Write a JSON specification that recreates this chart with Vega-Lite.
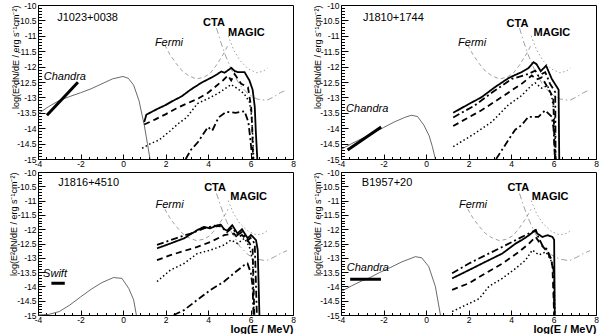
{
"$schema":"https://vega.github.io/schema/vega-lite/v6.json",
"autosize":{"type":"pad"},
"padding":{"left":8,"top":0,"right":0,"bottom":0},
"background":"white",
"columns":2,
"spacing":{"row":13,"column":48},
"bounds":"flush",
"config":{
 "font":"Liberation Sans",
 "view":{"stroke":"#000","strokeWidth":1},
 "axis":{"domainColor":"#000","tickColor":"#000","labelColor":"#000","labelFont":"Liberation Sans","labelFontSize":8.5,"titleColor":"#000","titleFont":"Liberation Sans","grid":false,"labelFlush":false,"labelOverlap":false},
 "text":{"font":"Liberation Sans","fontSize":11,"color":"#000","align":"left","baseline":"middle"},
 "line":{"clip":true}
},
"datasets":{
 "sens":[
  {"s":"fermi","x":1.97,"y":-11.3},{"s":"fermi","x":2.2,"y":-11.6},{"s":"fermi","x":2.5,"y":-11.9},{"s":"fermi","x":2.8,"y":-12.15},{"s":"fermi","x":3.1,"y":-12.3},{"s":"fermi","x":3.45,"y":-12.4},{"s":"fermi","x":3.8,"y":-12.35},{"s":"fermi","x":4.1,"y":-12.22},{"s":"fermi","x":4.4,"y":-11.95},{"s":"fermi","x":4.7,"y":-11.62},{"s":"fermi","x":4.95,"y":-11.3},
  {"s":"cta","x":4.4,"y":-10.75},{"s":"cta","x":4.6,"y":-11.2},{"s":"cta","x":4.8,"y":-11.6},{"s":"cta","x":5.1,"y":-12.1},{"s":"cta","x":5.5,"y":-12.6},{"s":"cta","x":5.9,"y":-12.9},{"s":"cta","x":6.3,"y":-13.05},{"s":"cta","x":6.75,"y":-13.1},{"s":"cta","x":7.1,"y":-12.98},{"s":"cta","x":7.4,"y":-12.85},{"s":"cta","x":7.72,"y":-12.75},
  {"s":"magic","x":4.95,"y":-11.0},{"s":"magic","x":5.2,"y":-11.45},{"s":"magic","x":5.5,"y":-11.8},{"s":"magic","x":5.9,"y":-12.08},{"s":"magic","x":6.3,"y":-12.2},{"s":"magic","x":6.6,"y":-12.15},{"s":"magic","x":6.8,"y":-12.05}
 ],
 "m1":[
  {"s":"sync","x":-4,"y":-13.53},{"s":"sync","x":-3.5,"y":-13.3},{"s":"sync","x":-3.0,"y":-13.1},{"s":"sync","x":-2.5,"y":-12.97},{"s":"sync","x":-2.0,"y":-12.85},{"s":"sync","x":-1.5,"y":-12.72},{"s":"sync","x":-1.0,"y":-12.56},{"s":"sync","x":-0.5,"y":-12.4},{"s":"sync","x":0,"y":-12.32},{"s":"sync","x":0.25,"y":-12.38},{"s":"sync","x":0.5,"y":-12.6},{"s":"sync","x":0.75,"y":-13.1},{"s":"sync","x":1.0,"y":-13.9},{"s":"sync","x":1.15,"y":-14.5},{"s":"sync","x":1.27,"y":-15},
  {"s":"xray","x":-3.58,"y":-13.58},{"s":"xray","x":-2.12,"y":-12.51},
  {"s":"solid","x":1.0,"y":-13.8},{"s":"solid","x":1.1,"y":-13.56},{"s":"solid","x":1.6,"y":-13.38},{"s":"solid","x":2.0,"y":-13.25},{"s":"solid","x":2.3,"y":-13.13},{"s":"solid","x":2.75,"y":-12.97},{"s":"solid","x":3.2,"y":-12.74},{"s":"solid","x":3.7,"y":-12.52},{"s":"solid","x":4.15,"y":-12.36},{"s":"solid","x":4.45,"y":-12.24},{"s":"solid","x":4.63,"y":-12.16},{"s":"solid","x":4.78,"y":-12.2},{"s":"solid","x":4.94,"y":-12.12},{"s":"solid","x":5.1,"y":-12.04},{"s":"solid","x":5.25,"y":-12.14},{"s":"solid","x":5.4,"y":-12.18},{"s":"solid","x":5.72,"y":-12.18},{"s":"solid","x":5.95,"y":-12.45},{"s":"solid","x":6.1,"y":-12.75},{"s":"solid","x":6.2,"y":-13.3},{"s":"solid","x":6.25,"y":-14.1},{"s":"solid","x":6.32,"y":-15},
  {"s":"dashed","x":1.0,"y":-13.88},{"s":"dashed","x":1.5,"y":-13.72},{"s":"dashed","x":2.0,"y":-13.55},{"s":"dashed","x":2.5,"y":-13.36},{"s":"dashed","x":3.0,"y":-13.2},{"s":"dashed","x":3.5,"y":-13.05},{"s":"dashed","x":4.0,"y":-12.85},{"s":"dashed","x":4.4,"y":-12.62},{"s":"dashed","x":4.7,"y":-12.45},{"s":"dashed","x":4.94,"y":-12.29},{"s":"dashed","x":5.09,"y":-12.45},{"s":"dashed","x":5.25,"y":-12.24},{"s":"dashed","x":5.56,"y":-12.56},{"s":"dashed","x":5.88,"y":-12.67},{"s":"dashed","x":6.03,"y":-13.3},{"s":"dashed","x":6.08,"y":-14},{"s":"dashed","x":6.12,"y":-15},
  {"s":"dotted","x":0.9,"y":-14.65},{"s":"dotted","x":1.3,"y":-14.5},{"s":"dotted","x":1.7,"y":-14.38},{"s":"dotted","x":2.2,"y":-14.1},{"s":"dotted","x":2.6,"y":-13.85},{"s":"dotted","x":3.0,"y":-13.65},{"s":"dotted","x":3.5,"y":-13.2},{"s":"dotted","x":4.0,"y":-13.04},{"s":"dotted","x":4.5,"y":-12.86},{"s":"dotted","x":5.09,"y":-12.58},{"s":"dotted","x":5.4,"y":-12.72},{"s":"dotted","x":5.7,"y":-12.88},{"s":"dotted","x":5.95,"y":-13.15},{"s":"dotted","x":6.05,"y":-13.6},{"s":"dotted","x":6.1,"y":-14.2},{"s":"dotted","x":6.15,"y":-15},
  {"s":"dashdot","x":2.95,"y":-15},{"s":"dashdot","x":3.2,"y":-14.7},{"s":"dashdot","x":3.53,"y":-14.45},{"s":"dashdot","x":4.0,"y":-13.96},{"s":"dashdot","x":4.2,"y":-14.08},{"s":"dashdot","x":4.5,"y":-13.65},{"s":"dashdot","x":4.85,"y":-13.47},{"s":"dashdot","x":5.3,"y":-13.5},{"s":"dashdot","x":5.72,"y":-13.45},{"s":"dashdot","x":5.9,"y":-13.8},{"s":"dashdot","x":6.0,"y":-14.4},{"s":"dashdot","x":6.08,"y":-15}
 ],
 "m2":[
  {"s":"sync","x":-4,"y":-14.69},{"s":"sync","x":-3.5,"y":-14.5},{"s":"sync","x":-3.0,"y":-14.33},{"s":"sync","x":-2.5,"y":-14.16},{"s":"sync","x":-2.0,"y":-13.98},{"s":"sync","x":-1.5,"y":-13.8},{"s":"sync","x":-1.0,"y":-13.65},{"s":"sync","x":-0.69,"y":-13.58},{"s":"sync","x":-0.4,"y":-13.62},{"s":"sync","x":-0.1,"y":-13.9},{"s":"sync","x":0.15,"y":-14.25},{"s":"sync","x":0.3,"y":-14.6},{"s":"sync","x":0.44,"y":-15},
  {"s":"xray","x":-3.69,"y":-14.71},{"s":"xray","x":-2.11,"y":-13.96},
  {"s":"solid","x":1.28,"y":-13.5},{"s":"solid","x":2.0,"y":-13.22},{"s":"solid","x":2.6,"y":-13.0},{"s":"solid","x":3.24,"y":-12.67},{"s":"solid","x":3.87,"y":-12.38},{"s":"solid","x":4.2,"y":-12.27},{"s":"solid","x":4.5,"y":-12.18},{"s":"solid","x":4.82,"y":-12.05},{"s":"solid","x":5.06,"y":-11.86},{"s":"solid","x":5.2,"y":-11.92},{"s":"solid","x":5.4,"y":-12.15},{"s":"solid","x":5.65,"y":-11.97},{"s":"solid","x":5.92,"y":-12.4},{"s":"solid","x":6.24,"y":-12.75},{"s":"solid","x":6.27,"y":-15},
  {"s":"dashdot_hi","x":1.28,"y":-13.65},{"s":"dashdot_hi","x":2.3,"y":-13.26},{"s":"dashdot_hi","x":3.09,"y":-12.85},{"s":"dashdot_hi","x":4.03,"y":-12.4},{"s":"dashdot_hi","x":4.82,"y":-12.24},{"s":"dashdot_hi","x":5.14,"y":-12.13},{"s":"dashdot_hi","x":5.29,"y":-12.3},{"s":"dashdot_hi","x":5.61,"y":-12.18},{"s":"dashdot_hi","x":5.84,"y":-12.56},{"s":"dashdot_hi","x":6.08,"y":-12.83},{"s":"dashdot_hi","x":6.1,"y":-15},
  {"s":"dashed","x":1.28,"y":-13.93},{"s":"dashed","x":2.0,"y":-13.65},{"s":"dashed","x":2.61,"y":-13.42},{"s":"dashed","x":3.56,"y":-12.99},{"s":"dashed","x":4.5,"y":-12.56},{"s":"dashed","x":4.98,"y":-12.29},{"s":"dashed","x":5.2,"y":-12.42},{"s":"dashed","x":5.45,"y":-12.35},{"s":"dashed","x":5.76,"y":-12.72},{"s":"dashed","x":5.99,"y":-13.0},{"s":"dashed","x":6.06,"y":-15},
  {"s":"dotted","x":1.28,"y":-14.6},{"s":"dotted","x":2.3,"y":-14.17},{"s":"dotted","x":3.09,"y":-13.8},{"s":"dotted","x":3.87,"y":-13.25},{"s":"dotted","x":4.5,"y":-12.94},{"s":"dotted","x":4.95,"y":-12.62},{"s":"dotted","x":5.14,"y":-12.53},{"s":"dotted","x":5.45,"y":-12.7},{"s":"dotted","x":5.72,"y":-12.62},{"s":"dotted","x":5.92,"y":-12.98},{"s":"dotted","x":6.05,"y":-13.6},{"s":"dotted","x":6.1,"y":-15},
  {"s":"dashdot","x":3.3,"y":-15},{"s":"dashdot","x":3.87,"y":-14.39},{"s":"dashdot","x":4.2,"y":-14.05},{"s":"dashdot","x":4.5,"y":-13.9},{"s":"dashdot","x":4.82,"y":-13.63},{"s":"dashdot","x":5.29,"y":-13.63},{"s":"dashdot","x":5.61,"y":-13.42},{"s":"dashdot","x":5.92,"y":-13.63},{"s":"dashdot","x":6.0,"y":-14.0},{"s":"dashdot","x":6.08,"y":-15}
 ],
 "m3":[
  {"s":"sync","x":-4,"y":-15},{"s":"sync","x":-3.5,"y":-14.98},{"s":"sync","x":-3.0,"y":-14.88},{"s":"sync","x":-2.5,"y":-14.65},{"s":"sync","x":-2.0,"y":-14.37},{"s":"sync","x":-1.5,"y":-14.1},{"s":"sync","x":-1.0,"y":-13.87},{"s":"sync","x":-0.45,"y":-13.69},{"s":"sync","x":-0.05,"y":-13.72},{"s":"sync","x":0.27,"y":-14.07},{"s":"sync","x":0.5,"y":-14.47},{"s":"sync","x":0.63,"y":-15},
  {"s":"xray","x":-3.37,"y":-13.89},{"s":"xray","x":-2.74,"y":-13.89},
  {"s":"solid","x":1.6,"y":-12.67},{"s":"solid","x":2.23,"y":-12.5},{"s":"solid","x":2.87,"y":-12.32},{"s":"solid","x":3.5,"y":-12.03},{"s":"solid","x":3.8,"y":-11.92},{"s":"solid","x":4.1,"y":-11.97},{"s":"solid","x":4.45,"y":-11.86},{"s":"solid","x":4.6,"y":-11.84},{"s":"solid","x":4.76,"y":-12.0},{"s":"solid","x":4.9,"y":-12.05},{"s":"solid","x":5.14,"y":-11.86},{"s":"solid","x":5.39,"y":-12.15},{"s":"solid","x":5.6,"y":-12.0},{"s":"solid","x":5.87,"y":-12.32},{"s":"solid","x":6.02,"y":-12.2},{"s":"solid","x":6.26,"y":-12.38},{"s":"solid","x":6.34,"y":-12.73},{"s":"solid","x":6.42,"y":-15},
  {"s":"dashdot_hi","x":1.6,"y":-12.55},{"s":"dashdot_hi","x":2.55,"y":-12.3},{"s":"dashdot_hi","x":3.18,"y":-12.15},{"s":"dashdot_hi","x":3.81,"y":-11.97},{"s":"dashdot_hi","x":4.29,"y":-11.88},{"s":"dashdot_hi","x":4.6,"y":-11.9},{"s":"dashdot_hi","x":4.9,"y":-12.1},{"s":"dashdot_hi","x":5.14,"y":-11.95},{"s":"dashdot_hi","x":5.39,"y":-12.2},{"s":"dashdot_hi","x":5.6,"y":-12.1},{"s":"dashdot_hi","x":5.87,"y":-12.4},{"s":"dashdot_hi","x":6.0,"y":-12.3},{"s":"dashdot_hi","x":6.2,"y":-12.5},{"s":"dashdot_hi","x":6.3,"y":-15},
  {"s":"dashed","x":1.6,"y":-13.08},{"s":"dashed","x":2.23,"y":-12.91},{"s":"dashed","x":2.87,"y":-12.76},{"s":"dashed","x":3.5,"y":-12.62},{"s":"dashed","x":4.13,"y":-12.44},{"s":"dashed","x":4.76,"y":-12.21},{"s":"dashed","x":5.22,"y":-12.15},{"s":"dashed","x":5.39,"y":-12.3},{"s":"dashed","x":5.6,"y":-12.2},{"s":"dashed","x":5.94,"y":-12.47},{"s":"dashed","x":6.1,"y":-12.7},{"s":"dashed","x":6.18,"y":-15},
  {"s":"dotted","x":1.6,"y":-13.83},{"s":"dotted","x":2.23,"y":-13.43},{"s":"dotted","x":2.87,"y":-13.2},{"s":"dotted","x":3.5,"y":-12.85},{"s":"dotted","x":4.13,"y":-12.73},{"s":"dotted","x":4.76,"y":-12.55},{"s":"dotted","x":5.08,"y":-12.38},{"s":"dotted","x":5.39,"y":-12.5},{"s":"dotted","x":5.71,"y":-12.32},{"s":"dotted","x":5.94,"y":-12.6},{"s":"dotted","x":6.1,"y":-13.07},{"s":"dotted","x":6.16,"y":-15},
  {"s":"dashdot","x":2.39,"y":-15},{"s":"dashdot","x":2.87,"y":-14.83},{"s":"dashdot","x":3.5,"y":-14.47},{"s":"dashdot","x":4.13,"y":-14.12},{"s":"dashdot","x":4.76,"y":-13.83},{"s":"dashdot","x":5.22,"y":-13.54},{"s":"dashdot","x":5.71,"y":-13.25},{"s":"dashdot","x":5.86,"y":-13.2},{"s":"dashdot","x":6.02,"y":-13.54},{"s":"dashdot","x":6.1,"y":-14.0},{"s":"dashdot","x":6.14,"y":-15}
 ],
 "m4":[
  {"s":"sync","x":-4,"y":-14.18},{"s":"sync","x":-3.5,"y":-13.98},{"s":"sync","x":-3.0,"y":-13.8},{"s":"sync","x":-2.71,"y":-13.72},{"s":"sync","x":-2.2,"y":-13.52},{"s":"sync","x":-1.76,"y":-13.37},{"s":"sync","x":-1.13,"y":-13.14},{"s":"sync","x":-0.5,"y":-12.96},{"s":"sync","x":-0.2,"y":-13.0},{"s":"sync","x":0.13,"y":-13.31},{"s":"sync","x":0.44,"y":-14.0},{"s":"sync","x":0.68,"y":-15},
  {"s":"xray","x":-3.57,"y":-13.75},{"s":"xray","x":-2.12,"y":-13.75},
  {"s":"solid","x":1.23,"y":-13.72},{"s":"solid","x":2.02,"y":-13.43},{"s":"solid","x":2.8,"y":-13.14},{"s":"solid","x":3.59,"y":-12.85},{"s":"solid","x":4.22,"y":-12.5},{"s":"solid","x":4.53,"y":-12.37},{"s":"solid","x":4.85,"y":-12.21},{"s":"solid","x":5.16,"y":-12.03},{"s":"solid","x":5.23,"y":-12.15},{"s":"solid","x":5.48,"y":-12.27},{"s":"solid","x":5.72,"y":-12.21},{"s":"solid","x":5.95,"y":-12.27},{"s":"solid","x":6.03,"y":-12.37},{"s":"solid","x":6.06,"y":-15},
  {"s":"dashdot_hi","x":1.23,"y":-13.54},{"s":"dashdot_hi","x":2.02,"y":-13.2},{"s":"dashdot_hi","x":2.8,"y":-12.91},{"s":"dashdot_hi","x":3.59,"y":-12.62},{"s":"dashdot_hi","x":4.38,"y":-12.32},{"s":"dashdot_hi","x":5.0,"y":-12.09},{"s":"dashdot_hi","x":5.16,"y":-12.03},{"s":"dashdot_hi","x":5.3,"y":-12.3},{"s":"dashdot_hi","x":5.5,"y":-12.6},{"s":"dashdot_hi","x":5.7,"y":-12.7},{"s":"dashdot_hi","x":5.9,"y":-13.1},{"s":"dashdot_hi","x":6.0,"y":-13.4},{"s":"dashdot_hi","x":6.04,"y":-15},
  {"s":"dashed","x":1.23,"y":-14.12},{"s":"dashed","x":2.02,"y":-13.89},{"s":"dashed","x":2.8,"y":-13.54},{"s":"dashed","x":3.59,"y":-13.2},{"s":"dashed","x":4.38,"y":-12.79},{"s":"dashed","x":4.85,"y":-12.5},{"s":"dashed","x":5.16,"y":-12.27},{"s":"dashed","x":5.32,"y":-12.45},{"s":"dashed","x":5.64,"y":-12.73},{"s":"dashed","x":5.87,"y":-13.0},{"s":"dashed","x":5.95,"y":-13.3},{"s":"dashed","x":6.03,"y":-15},
  {"s":"dotted","x":1.23,"y":-14.88},{"s":"dotted","x":2.02,"y":-14.6},{"s":"dotted","x":2.5,"y":-14.43},{"s":"dotted","x":2.96,"y":-14.0},{"s":"dotted","x":3.59,"y":-13.72},{"s":"dotted","x":4.22,"y":-13.37},{"s":"dotted","x":4.69,"y":-13.08},{"s":"dotted","x":5.0,"y":-12.73},{"s":"dotted","x":5.32,"y":-12.9},{"s":"dotted","x":5.64,"y":-12.79},{"s":"dotted","x":5.87,"y":-13.08},{"s":"dotted","x":6.03,"y":-13.54},{"s":"dotted","x":6.06,"y":-15}
 ]
},
"concat":[
 {"width":255,"height":154,
  "encoding":{
   "x":{"field":"x","type":"quantitative","scale":{"domain":[-4,8],"nice":false,"zero":false},
    "axis":{"values":[-4,-3.6,-3.2,-2.8,-2.4,-2,-1.6,-1.2,-0.8,-0.4,0,0.4,0.8,1.2,1.6,2,2.4,2.8,3.2,3.6,4,4.4,4.8,5.2,5.6,6,6.4,6.8,7.2,7.6,8],
     "labelExpr":"abs(datum.value/2-round(datum.value/2))<0.01 ? replace(format(datum.value,'d'),'−','-') : ''",
     "tickSize":{"condition":{"test":"abs(datum.value/2-round(datum.value/2))<0.01","value":-5},"value":-2.5},
     "labelPadding":5,"title":null}},
   "y":{"field":"y","type":"quantitative","scale":{"domain":[-15,-10],"nice":false,"zero":false},
    "axis":{"values":[-15,-14.9,-14.8,-14.7,-14.6,-14.5,-14.4,-14.3,-14.2,-14.1,-14,-13.9,-13.8,-13.7,-13.6,-13.5,-13.4,-13.3,-13.2,-13.1,-13,-12.9,-12.8,-12.7,-12.6,-12.5,-12.4,-12.3,-12.2,-12.1,-12,-11.9,-11.8,-11.7,-11.6,-11.5,-11.4,-11.3,-11.2,-11.1,-11,-10.9,-10.8,-10.7,-10.6,-10.5,-10.4,-10.3,-10.2,-10.1,-10],
     "labelExpr":"abs(datum.value*2-round(datum.value*2))<0.01 ? replace(format(datum.value,'.1~f'),'−','-') : ''",
     "tickSize":{"condition":{"test":"abs(datum.value*2-round(datum.value*2))<0.01","value":-7},"value":-3.5},
     "labelPadding":9,
     "title":"log(E²dN/dE / erg s⁻¹cm⁻²)","titleX":-23,"titleY":0,"titleAngle":270,"titleAlign":"right","titleBaseline":"middle","titleFontSize":9,"titleFontWeight":"normal"}}
  },
  "layer":[
   {"data":{"name":"sens"},"mark":{"type":"line","strokeWidth":0.8,"color":"#888"},
    "encoding":{"strokeDash":{"field":"s","type":"nominal","legend":null,"scale":{"domain":["solid","dashdot_hi","dashed","dashdot","fermi","cta","magic"],"range":[[1,0],[7,3,2,3],[6,4],[7,3,2,3],[4,3],[6,3,1.5,3],[1.5,2.5]]}}}},
   {"data":{"name":"m1"},"transform":[{"filter":{"field":"s","oneOf":["sync"]}}],"mark":{"type":"line","strokeWidth":0.8,"color":"#444"}},
   {"data":{"name":"m1"},"transform":[{"filter":{"field":"s","oneOf":["xray"]}}],"mark":{"type":"line","strokeWidth":3,"color":"#000"}},
   {"data":{"name":"m1"},"transform":[{"filter":{"field":"s","oneOf":["dotted"]}}],"mark":{"type":"line","strokeWidth":1.5,"color":"#000","strokeDash":[1.5,2.5]}},
   {"data":{"name":"m1"},"transform":[{"filter":{"field":"s","oneOf":["solid","dashdot_hi","dashed","dashdot"]}}],"mark":{"type":"line","strokeWidth":1.8,"color":"#000"},
    "encoding":{"strokeDash":{"field":"s","type":"nominal","legend":null,"scale":{"domain":["solid","dashdot_hi","dashed","dashdot","fermi","cta","magic"],"range":[[1,0],[7,3,2,3],[6,4],[7,3,2,3],[4,3],[6,3,1.5,3],[1.5,2.5]]}}}},
   {"data":{"values":[{"t":"J1023+0038","x":-3.1,"y":-10.42}]},"mark":{"type":"text"},"encoding":{"text":{"field":"t"}}},
   {"data":{"values":[{"t":"Chandra","x":-3.73,"y":-12.35},{"t":"Fermi","x":1.5,"y":-11.22}]},"mark":{"type":"text","fontStyle":"italic"},"encoding":{"text":{"field":"t"}}},
   {"data":{"values":[{"t":"CTA","x":3.77,"y":-10.6},{"t":"MAGIC","x":4.94,"y":-10.91}]},"mark":{"type":"text","fontWeight":"bold"},"encoding":{"text":{"field":"t"}}}
  ]},
 {"width":255,"height":154,
  "encoding":{
   "x":{"field":"x","type":"quantitative","scale":{"domain":[-4,8],"nice":false,"zero":false},
    "axis":{"values":[-4,-3.6,-3.2,-2.8,-2.4,-2,-1.6,-1.2,-0.8,-0.4,0,0.4,0.8,1.2,1.6,2,2.4,2.8,3.2,3.6,4,4.4,4.8,5.2,5.6,6,6.4,6.8,7.2,7.6,8],
     "labelExpr":"abs(datum.value/2-round(datum.value/2))<0.01 ? replace(format(datum.value,'d'),'−','-') : ''",
     "tickSize":{"condition":{"test":"abs(datum.value/2-round(datum.value/2))<0.01","value":-5},"value":-2.5},
     "labelPadding":5,"title":null}},
   "y":{"field":"y","type":"quantitative","scale":{"domain":[-15,-10],"nice":false,"zero":false},
    "axis":{"values":[-15,-14.9,-14.8,-14.7,-14.6,-14.5,-14.4,-14.3,-14.2,-14.1,-14,-13.9,-13.8,-13.7,-13.6,-13.5,-13.4,-13.3,-13.2,-13.1,-13,-12.9,-12.8,-12.7,-12.6,-12.5,-12.4,-12.3,-12.2,-12.1,-12,-11.9,-11.8,-11.7,-11.6,-11.5,-11.4,-11.3,-11.2,-11.1,-11,-10.9,-10.8,-10.7,-10.6,-10.5,-10.4,-10.3,-10.2,-10.1,-10],
     "labelExpr":"abs(datum.value*2-round(datum.value*2))<0.01 ? replace(format(datum.value,'.1~f'),'−','-') : ''",
     "tickSize":{"condition":{"test":"abs(datum.value*2-round(datum.value*2))<0.01","value":-7},"value":-3.5},
     "labelPadding":9,
     "title":"log(E²dN/dE / erg s⁻¹cm⁻²)","titleX":-24,"titleY":0,"titleAngle":270,"titleAlign":"right","titleBaseline":"middle","titleFontSize":9,"titleFontWeight":"normal"}}
  },
  "layer":[
   {"data":{"name":"sens"},"mark":{"type":"line","strokeWidth":0.8,"color":"#888"},
    "encoding":{"strokeDash":{"field":"s","type":"nominal","legend":null,"scale":{"domain":["solid","dashdot_hi","dashed","dashdot","fermi","cta","magic"],"range":[[1,0],[7,3,2,3],[6,4],[7,3,2,3],[4,3],[6,3,1.5,3],[1.5,2.5]]}}}},
   {"data":{"name":"m2"},"transform":[{"filter":{"field":"s","oneOf":["sync"]}}],"mark":{"type":"line","strokeWidth":0.8,"color":"#444"}},
   {"data":{"name":"m2"},"transform":[{"filter":{"field":"s","oneOf":["xray"]}}],"mark":{"type":"line","strokeWidth":3,"color":"#000"}},
   {"data":{"name":"m2"},"transform":[{"filter":{"field":"s","oneOf":["dotted"]}}],"mark":{"type":"line","strokeWidth":1.5,"color":"#000","strokeDash":[1.5,2.5]}},
   {"data":{"name":"m2"},"transform":[{"filter":{"field":"s","oneOf":["solid","dashdot_hi","dashed","dashdot"]}}],"mark":{"type":"line","strokeWidth":1.8,"color":"#000"},
    "encoding":{"strokeDash":{"field":"s","type":"nominal","legend":null,"scale":{"domain":["solid","dashdot_hi","dashed","dashdot","fermi","cta","magic"],"range":[[1,0],[7,3,2,3],[6,4],[7,3,2,3],[4,3],[6,3,1.5,3],[1.5,2.5]]}}}},
   {"data":{"values":[{"t":"J1810+1744","x":-2.97,"y":-10.41}]},"mark":{"type":"text"},"encoding":{"text":{"field":"t"}}},
   {"data":{"values":[{"t":"Chandra","x":-3.76,"y":-13.37},{"t":"Fermi","x":1.51,"y":-11.22}]},"mark":{"type":"text","fontStyle":"italic"},"encoding":{"text":{"field":"t"}}},
   {"data":{"values":[{"t":"CTA","x":3.79,"y":-10.62},{"t":"MAGIC","x":5.06,"y":-10.91}]},"mark":{"type":"text","fontWeight":"bold"},"encoding":{"text":{"field":"t"}}}
  ]},
 {"width":255,"height":143,
  "encoding":{
   "x":{"field":"x","type":"quantitative","scale":{"domain":[-4,8],"nice":false,"zero":false},
    "axis":{"values":[-4,-3.6,-3.2,-2.8,-2.4,-2,-1.6,-1.2,-0.8,-0.4,0,0.4,0.8,1.2,1.6,2,2.4,2.8,3.2,3.6,4,4.4,4.8,5.2,5.6,6,6.4,6.8,7.2,7.6,8],
     "labelExpr":"abs(datum.value/2-round(datum.value/2))<0.01 ? replace(format(datum.value,'d'),'−','-') : ''",
     "tickSize":{"condition":{"test":"abs(datum.value/2-round(datum.value/2))<0.01","value":-5},"value":-2.5},
     "labelPadding":5,
     "title":"log(E / MeV)","titleX":255,"titleY":14,"titleAlign":"right","titleBaseline":"middle","titleFontSize":11,"titleFontWeight":"bold"}},
   "y":{"field":"y","type":"quantitative","scale":{"domain":[-15,-10],"nice":false,"zero":false},
    "axis":{"values":[-15,-14.9,-14.8,-14.7,-14.6,-14.5,-14.4,-14.3,-14.2,-14.1,-14,-13.9,-13.8,-13.7,-13.6,-13.5,-13.4,-13.3,-13.2,-13.1,-13,-12.9,-12.8,-12.7,-12.6,-12.5,-12.4,-12.3,-12.2,-12.1,-12,-11.9,-11.8,-11.7,-11.6,-11.5,-11.4,-11.3,-11.2,-11.1,-11,-10.9,-10.8,-10.7,-10.6,-10.5,-10.4,-10.3,-10.2,-10.1,-10],
     "labelExpr":"abs(datum.value*2-round(datum.value*2))<0.01 ? replace(format(datum.value,'.1~f'),'−','-') : ''",
     "tickSize":{"condition":{"test":"abs(datum.value*2-round(datum.value*2))<0.01","value":-7},"value":-3.5},
     "labelPadding":9,
     "title":"log(E²dN/dE / erg s⁻¹cm⁻²)","titleX":-25,"titleY":0,"titleAngle":270,"titleAlign":"right","titleBaseline":"middle","titleFontSize":9,"titleFontWeight":"normal"}}
  },
  "layer":[
   {"data":{"name":"sens"},"mark":{"type":"line","strokeWidth":0.8,"color":"#888"},
    "encoding":{"strokeDash":{"field":"s","type":"nominal","legend":null,"scale":{"domain":["solid","dashdot_hi","dashed","dashdot","fermi","cta","magic"],"range":[[1,0],[7,3,2,3],[6,4],[7,3,2,3],[4,3],[6,3,1.5,3],[1.5,2.5]]}}}},
   {"data":{"name":"m3"},"transform":[{"filter":{"field":"s","oneOf":["sync"]}}],"mark":{"type":"line","strokeWidth":0.8,"color":"#444"}},
   {"data":{"name":"m3"},"transform":[{"filter":{"field":"s","oneOf":["xray"]}}],"mark":{"type":"line","strokeWidth":3,"color":"#000"}},
   {"data":{"name":"m3"},"transform":[{"filter":{"field":"s","oneOf":["dotted"]}}],"mark":{"type":"line","strokeWidth":1.5,"color":"#000","strokeDash":[1.5,2.5]}},
   {"data":{"name":"m3"},"transform":[{"filter":{"field":"s","oneOf":["solid","dashdot_hi","dashed","dashdot"]}}],"mark":{"type":"line","strokeWidth":1.8,"color":"#000"},
    "encoding":{"strokeDash":{"field":"s","type":"nominal","legend":null,"scale":{"domain":["solid","dashdot_hi","dashed","dashdot","fermi","cta","magic"],"range":[[1,0],[7,3,2,3],[6,4],[7,3,2,3],[4,3],[6,3,1.5,3],[1.5,2.5]]}}}},
   {"data":{"values":[{"t":"J1816+4510","x":-3.05,"y":-10.38}]},"mark":{"type":"text"},"encoding":{"text":{"field":"t"}}},
   {"data":{"values":[{"t":"Swift","x":-3.76,"y":-13.58},{"t":"Fermi","x":1.53,"y":-11.16}]},"mark":{"type":"text","fontStyle":"italic"},"encoding":{"text":{"field":"t"}}},
   {"data":{"values":[{"t":"CTA","x":3.82,"y":-10.56},{"t":"MAGIC","x":5.05,"y":-10.87}]},"mark":{"type":"text","fontWeight":"bold"},"encoding":{"text":{"field":"t"}}}
  ]},
 {"width":255,"height":143,
  "encoding":{
   "x":{"field":"x","type":"quantitative","scale":{"domain":[-4,8],"nice":false,"zero":false},
    "axis":{"values":[-4,-3.6,-3.2,-2.8,-2.4,-2,-1.6,-1.2,-0.8,-0.4,0,0.4,0.8,1.2,1.6,2,2.4,2.8,3.2,3.6,4,4.4,4.8,5.2,5.6,6,6.4,6.8,7.2,7.6,8],
     "labelExpr":"abs(datum.value/2-round(datum.value/2))<0.01 ? replace(format(datum.value,'d'),'−','-') : ''",
     "tickSize":{"condition":{"test":"abs(datum.value/2-round(datum.value/2))<0.01","value":-5},"value":-2.5},
     "labelPadding":5,
     "title":"log(E / MeV)","titleX":255,"titleY":14,"titleAlign":"right","titleBaseline":"middle","titleFontSize":11,"titleFontWeight":"bold"}},
   "y":{"field":"y","type":"quantitative","scale":{"domain":[-15,-10],"nice":false,"zero":false},
    "axis":{"values":[-15,-14.9,-14.8,-14.7,-14.6,-14.5,-14.4,-14.3,-14.2,-14.1,-14,-13.9,-13.8,-13.7,-13.6,-13.5,-13.4,-13.3,-13.2,-13.1,-13,-12.9,-12.8,-12.7,-12.6,-12.5,-12.4,-12.3,-12.2,-12.1,-12,-11.9,-11.8,-11.7,-11.6,-11.5,-11.4,-11.3,-11.2,-11.1,-11,-10.9,-10.8,-10.7,-10.6,-10.5,-10.4,-10.3,-10.2,-10.1,-10],
     "labelExpr":"abs(datum.value*2-round(datum.value*2))<0.01 ? replace(format(datum.value,'.1~f'),'−','-') : ''",
     "tickSize":{"condition":{"test":"abs(datum.value*2-round(datum.value*2))<0.01","value":-7},"value":-3.5},
     "labelPadding":9,
     "title":"log(E²dN/dE / erg s⁻¹cm⁻²)","titleX":-24,"titleY":0,"titleAngle":270,"titleAlign":"right","titleBaseline":"middle","titleFontSize":9,"titleFontWeight":"normal"}}
  },
  "layer":[
   {"data":{"name":"sens"},"mark":{"type":"line","strokeWidth":0.8,"color":"#888"},
    "encoding":{"strokeDash":{"field":"s","type":"nominal","legend":null,"scale":{"domain":["solid","dashdot_hi","dashed","dashdot","fermi","cta","magic"],"range":[[1,0],[7,3,2,3],[6,4],[7,3,2,3],[4,3],[6,3,1.5,3],[1.5,2.5]]}}}},
   {"data":{"name":"m4"},"transform":[{"filter":{"field":"s","oneOf":["sync"]}}],"mark":{"type":"line","strokeWidth":0.8,"color":"#444"}},
   {"data":{"name":"m4"},"transform":[{"filter":{"field":"s","oneOf":["xray"]}}],"mark":{"type":"line","strokeWidth":3,"color":"#000"}},
   {"data":{"name":"m4"},"transform":[{"filter":{"field":"s","oneOf":["dotted"]}}],"mark":{"type":"line","strokeWidth":1.5,"color":"#000","strokeDash":[1.5,2.5]}},
   {"data":{"name":"m4"},"transform":[{"filter":{"field":"s","oneOf":["solid","dashdot_hi","dashed","dashdot"]}}],"mark":{"type":"line","strokeWidth":1.8,"color":"#000"},
    "encoding":{"strokeDash":{"field":"s","type":"nominal","legend":null,"scale":{"domain":["solid","dashdot_hi","dashed","dashdot","fermi","cta","magic"],"range":[[1,0],[7,3,2,3],[6,4],[7,3,2,3],[4,3],[6,3,1.5,3],[1.5,2.5]]}}}},
   {"data":{"values":[{"t":"B1957+20","x":-3.02,"y":-10.38}]},"mark":{"type":"text"},"encoding":{"text":{"field":"t"}}},
   {"data":{"values":[{"t":"Chandra","x":-3.73,"y":-13.35},{"t":"Fermi","x":1.55,"y":-11.16}]},"mark":{"type":"text","fontStyle":"italic"},"encoding":{"text":{"field":"t"}}},
   {"data":{"values":[{"t":"CTA","x":3.83,"y":-10.56},{"t":"MAGIC","x":4.98,"y":-10.87}]},"mark":{"type":"text","fontWeight":"bold"},"encoding":{"text":{"field":"t"}}}
  ]}
]
}
